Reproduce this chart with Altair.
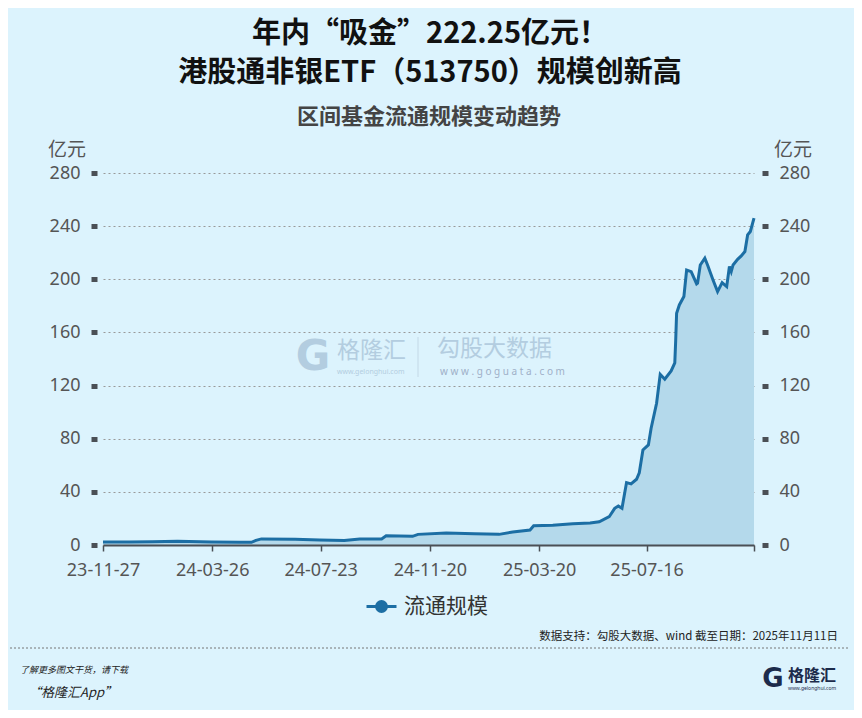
import altair as alt
import pandas as pd

# ---- data ----
dates = ["2023-11-27","2023-12-26","2024-01-20","2024-02-17","2024-03-25","2024-04-25",
         "2024-05-08","2024-05-13","2024-05-19","2024-06-25","2024-07-22","2024-08-18",
         "2024-09-04","2024-09-28","2024-10-03","2024-11-01","2024-11-07","2024-12-08",
         "2025-01-08","2025-02-04","2025-02-19","2025-03-10","2025-03-14","2025-04-04",
         "2025-04-26","2025-05-15","2025-05-25","2025-06-05","2025-06-11","2025-06-15",
         "2025-06-19","2025-06-24","2025-06-29","2025-07-05","2025-07-08","2025-07-12",
         "2025-07-18","2025-07-21","2025-07-27","2025-07-31","2025-08-05","2025-08-12",
         "2025-08-16","2025-08-17","2025-08-18","2025-08-21","2025-08-26","2025-08-29",
         "2025-09-03","2025-09-09","2025-09-10","2025-09-13","2025-09-18","2025-09-21",
         "2025-09-27","2025-10-02","2025-10-07","2025-10-12","2025-10-15","2025-10-17",
         "2025-10-19","2025-10-24","2025-10-28","2025-11-01","2025-11-04","2025-11-07",
         "2025-11-11"]
values = [2.3,2.2,2.4,2.8,2.2,2.0,2.0,3.5,4.6,4.3,3.8,3.4,4.5,4.6,7.0,6.5,8.0,9.0,8.5,8.0,
          9.8,11.3,14.5,14.8,16.0,16.5,17.5,21.3,27.6,29.4,27.6,47,46,49.5,54.4,71.5,75.3,
          87.9,106.7,128.5,124.8,131,137,154,174.5,180.7,187,207,205.8,196.5,197,210.8,
          215.9,210.8,199.5,190.7,197.5,194.5,209.6,205.8,210.8,215,217.6,220.9,233.4,236,246]
series_name = "流通规模"
x_tick_dates = [(2023,11,27),(2024,3,26),(2024,7,23),(2024,11,20),(2025,3,20),(2025,7,16),(2025,11,11)]
y_ticks = [0, 40, 80, 120, 160, 200, 240, 280]

title1 = "年内“吸金”222.25亿元！"
title2 = "港股通非银ETF（513750）规模创新高"
subtitle = "区间基金流通规模变动趋势"
unit = "亿元"
source = "数据支持：勾股大数据、wind 截至日期：2025年11月11日"
foot1 = "了解更多图文干货，请下载"
foot2 = "“格隆汇App”"

df = pd.DataFrame({"date": dates, "value": values, "series": series_name})

# ---- style ----
BG = "#dcf3fd"
LINE = "#1c6ea4"
AREA = "#b4d9eb"
AXC = "#4a4f55"
LAB = "#555555"
CJK = "Noto Sans CJK SC"
NUM = "Noto Sans"
W, H = 651, 372

def dt(t):
    return alt.DateTime(year=t[0], month=t[1], date=t[2], utc=True)

xscale = alt.Scale(type="utc", domain=[dt(x_tick_dates[0]), dt(x_tick_dates[-1])])
xaxis = alt.Axis(values=[dt(t) for t in x_tick_dates], format="%y-%m-%d", formatType="time",
                 labelExpr="datum.label == '25-11-11' ? '' : datum.label",
                 labelFlush=False, labelOverlap=False,
                 title=None, grid=False, domainColor=AXC, domainWidth=2,
                 tickColor=AXC, tickSize=6, tickWidth=1.5, labelFont=NUM, labelFontSize=18,
                 labelColor=LAB, labelPadding=10, zindex=2)
yscale = alt.Scale(domain=[0, 280], nice=False, zero=True)

common_y = dict(values=y_ticks, title=None, domain=False, ticks=True, tickSize=6, tickWidth=5,
                tickColor=AXC, labelFont=NUM, labelFontSize=18, labelColor=LAB, labelPadding=11)

area = alt.Chart(df).mark_area(color=AREA, opacity=1, interpolate="linear").encode(
    x=alt.X("date:T", scale=xscale, axis=xaxis),
    y=alt.Y("value:Q", scale=yscale,
            axis=alt.Axis(orient="right", grid=False, offset=8, **common_y)),
)

symbol_path = "M-1,0L1,0M0.33,0A0.33,0.33,0,1,1,-0.33,0A0.33,0.33,0,1,1,0.33,0Z"
line = alt.Chart(df).mark_line(strokeWidth=3, interpolate="linear").encode(
    x=alt.X("date:T", scale=xscale, axis=xaxis),
    y=alt.Y("value:Q", scale=yscale,
            axis=alt.Axis(orient="left", grid=True, gridDash=[2, 3], gridColor="#999999",
                          gridWidth=1, offset=6, **common_y)),
    color=alt.Color("series:N", scale=alt.Scale(range=[LINE]),
                    legend=alt.Legend(orient="none", legendX=262, legendY=417, title=None,
                                      symbolType=symbol_path, symbolSize=900,
                                      symbolStrokeWidth=3, symbolFillColor=LINE,
                                      symbolStrokeColor=LINE, labelFont=CJK, labelFontSize=21,
                                      labelColor="#333333", labelOffset=6)),
)

def txt(s, x, y, size, color="#222222", weight="normal", align="center", font=CJK,
        style="normal", opacity=1.0):
    return alt.Chart(pd.DataFrame({"t": [s]})).mark_text(
        font=font, fontSize=size, fontWeight=weight, color=color, align=align,
        baseline="middle", fontStyle=style, opacity=opacity
    ).encode(x=alt.value(x), y=alt.value(y), text="t:N")

wm = "#b3cde0"
texts = [
    txt(title1, 327, -139, 29, "#111111", "bold"),
    txt(title2, 327, -100, 29, "#111111", "bold"),
    txt(subtitle, 326, -56, 22, "#444444", "bold"),
    txt(unit, -36, -23, 19, LAB),
    txt(unit, 690, -23, 19, LAB),
    # watermark
    txt("G", 210, 184, 42, wm, "bold", font="DejaVu Sans"),
    txt("格隆汇", 234, 178, 23, wm, align="left"),
    txt("www.gelonghui.com", 234, 199, 7, wm, align="left", font=NUM),
    txt("勾股大数据", 334, 176, 23, wm, align="left"),
    txt("w w w . g o g u a t a . c o m", 337, 199, 10, "#9fb0c8", align="left", font=NUM),
    # footer
    txt(source, 735, 464, 11.5, "#222222", align="right"),
    txt(foot1, -83, 497, 9, "#222222", align="left", style="italic"),
    txt(foot2, -75, 520, 13, "#222222", align="left", style="italic"),
    txt("G", 670, 506, 26, "#1c2b4b", "bold", font="DejaVu Sans"),
    txt("格隆汇", 685, 503, 16, "#1c2b4b", "bold", align="left"),
    txt("www.gelonghui.com", 685, 515, 5, "#1c2b4b", align="left", font=NUM),
]

sep = alt.Chart(pd.DataFrame({"k": [1]})).mark_rule(color="#c3d8e6", strokeWidth=1).encode(
    x=alt.value(315), y=alt.value(164), y2=alt.value(204))
dotted = alt.Chart(pd.DataFrame({"k": [1]})).mark_rule(color="#777777", strokeWidth=1,
                                                      strokeDash=[2, 2]).encode(
    x=alt.value(-93), x2=alt.value(745), y=alt.value(475))

chart = alt.layer(area, line, sep, dotted, *texts).resolve_scale(y="independent").properties(
    width=W, height=H,
    autosize=alt.AutoSizeParams(type="none"),
    padding={"left": 95, "top": 165, "right": 100, "bottom": 165},
    background=BG,
).configure_view(stroke=None, fill=None)

chart.save("out.html", embed_options={"renderer": "svg", "actions": False})
